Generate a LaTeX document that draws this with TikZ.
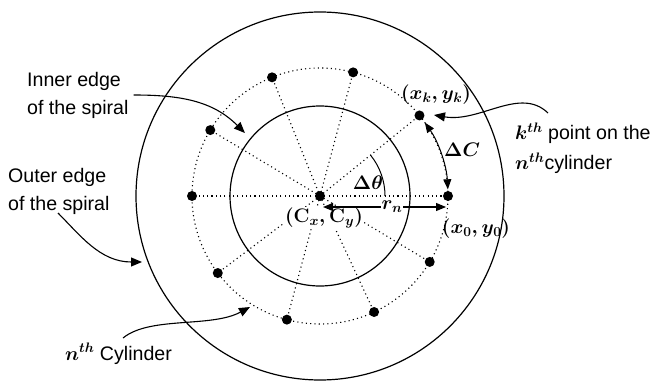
\documentclass[tikz,border=0pt]{standalone}
\usepackage{fix-cm}
\usepackage[no-math]{fontspec}
\setmainfont{Liberation Sans}
\usetikzlibrary{arrows.meta,calc}
\tikzset{
  lbl/.style={font=\fontsize{19.6}{28}\selectfont\boldmath, inner sep=0pt},
  ring/.style={draw, circle, line width=1.2pt, inner sep=0pt},
  dotline/.style={line width=1.1pt, dash pattern=on 1.1pt off 3.2pt},
  ptdot/.style={circle, fill=black, inner sep=0pt, minimum size=10pt},
  arr/.style={line width=1.1pt, -{Triangle[length=11pt,width=9pt]}},
  dbl/.style={line width=1.1pt, {Triangle[length=10pt,width=8pt]}-{Triangle[length=10pt,width=8pt]}},
}
\begin{document}
\begin{tikzpicture}[x=1pt,y=1pt]
\useasboundingbox (0,0) rectangle (656,381);
\coordinate (c) at (320,185);
% circles
\node[ring, minimum size=368pt] (outer) at (c) {};
\node[ring, minimum size=180pt] (inner) at (c) {};
\draw[dotline] (c) circle (128);
% points
\node[ptdot] (cdot) at (c) {};
\foreach \a/\n in {0/p0,39/pk,75/p2,112/p3,149/p4,180/p5,217/p6,255/p7,295/p8,329/p9}{
  \node[ptdot] (\n) at ($(c)+(\a:128)$) {};
  \draw[dotline] (cdot.center) -- (\n.center);
}
% delta theta arc
\draw[line width=1pt] ($(c)+(65,0)$) arc[start angle=0, end angle=39, radius=65];
% labels
\node[lbl] (xk) at (436,286) {$(x_k, y_k)$};
\node[lbl, fill=white, inner sep=1pt] (cxy) at (324,163) {$(\mathrm{C}_x, \mathrm{C}_y)$};
\node[lbl] (x0) at (476,152) {$(x_0, y_0)$};
\node[lbl] (dth) at (368,198) {$\Delta\theta$};
\node[lbl] (dC) at (462,231) {$\Delta C$};
% r_n arrow
\coordinate (rnl) at ($(c)+(3,-11)$);
\coordinate (rnr) at ($(c)+(126,-11)$);
\draw[dbl] (rnl) -- (rnr);
\node[lbl, fill=white, inner sep=1pt] (rn) at (392,174) {$r_n$};
% delta C arc
\draw[dbl, line width=1pt] ($(c)+(3:128)$) arc[start angle=3, end angle=35, radius=128];
% text labels
\node[lbl, align=left, anchor=west] (innerlbl) at (27,286) {Inner edge\\of the spiral};
\node[lbl, align=left, anchor=west] (outerlbl) at (8,190) {Outer edge\\of the spiral};
\node[lbl, anchor=base west] (cyl) at (65,21) {$n^{th}$ Cylinder};
\node[lbl, align=left, anchor=west] (kth) at (515,233) {$k^{th}$ point on the\\[2pt]$n^{th}$cylinder};
% connectors
\coordinate (a1s) at ($(innerlbl.east)+(5,0)$);
\coordinate (a1e) at ($(c)+(140:98)$);
\draw[arr] (a1s) to[out=0, in=135] (a1e);
\coordinate (a2s) at (58,168);
\coordinate (a2e) at (142,119);
\draw[arr] (a2s) .. controls (80,146) and (100,119) .. (a2e);
\coordinate (a3s) at (123,43);
\coordinate (a3e) at (250,74);
\draw[arr] (a3s) .. controls (150,65) and (211,53) .. (a3e);
\coordinate (a4s) at (548,268);
\coordinate (a4e) at (434,266);
\draw[arr] (a4s) .. controls (520,295) and (480,258) .. (a4e);
\end{tikzpicture}
\end{document}
